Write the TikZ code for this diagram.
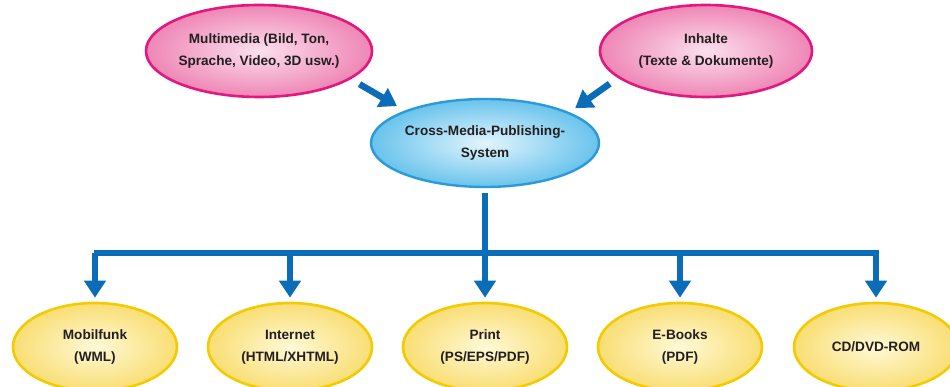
\documentclass[tikz,border=0pt]{standalone}
\usepackage{fontspec}
\setmainfont{Liberation Sans}
\usetikzlibrary{shapes.geometric,arrows.meta}

\definecolor{pinkline}{HTML}{E2187F}
\definecolor{pinkin}{HTML}{FBE0EC}
\definecolor{pinkout}{HTML}{EF86B6}
\definecolor{blueline}{HTML}{2A9AD8}
\definecolor{bluein}{HTML}{E2F5FD}
\definecolor{blueout}{HTML}{69C3EC}
\definecolor{yelline}{HTML}{F2CC00}
\definecolor{yelin}{HTML}{FFF9D6}
\definecolor{yelout}{HTML}{F9DE74}
\definecolor{flowblue}{HTML}{0B6DB7}
\definecolor{txt}{HTML}{231F20}

\tikzset{
  bubble/.style={ellipse, inner xsep=-14pt, inner ysep=-8pt, shading=radial,
    align=center, text=txt, font=\fontsize{13.6}{22.5}\selectfont\bfseries},
  source/.style={bubble, draw=pinkline, line width=2.6pt,
    inner color=pinkin, outer color=pinkout},
  hub/.style={bubble, draw=blueline, line width=2.4pt,
    inner color=bluein, outer color=blueout},
  target/.style={bubble, draw=yelline, line width=2.6pt,
    inner color=yelin, outer color=yelout,
    minimum width=164pt, minimum height=88pt},
  flow/.style={draw=flowblue, line width=6.5pt,
    -{Triangle[width=21pt,length=17pt]}},
  bar/.style={draw=flowblue, line width=6.5pt, line cap=rect}
}

\begin{document}
\begin{tikzpicture}[x=1pt,y=-1pt]
  \clip (0,0) rectangle (950,387);
  \fill[white] (0,0) rectangle (950,387);

  % sources and the central system
  \node[source, minimum width=226pt, minimum height=92pt] (mm) at (259,51)
    {Multimedia (Bild, Ton,\\Sprache, Video, 3D usw.)};
  \node[source, minimum width=212pt, minimum height=92pt] (inh) at (706,51)
    {Inhalte\\(Texte \& Dokumente)};
  \node[hub, minimum width=228pt, minimum height=88pt] (cmp) at (485,143)
    {Cross-Media-Publishing-\\System};

  % output channels
  \node[target] (mob) at (95,347) {Mobilfunk\\(WML)};
  \node[target] (web) at (290,347) {Internet\\(HTML/XHTML)};
  \node[target] (prt) at (485,347) {Print\\(PS/EPS/PDF)};
  \node[target] (ebk) at (680,347) {E-Books\\(PDF)};
  \node[target] (cd)  at (876,347) {CD/DVD-ROM};

  % inputs into the system
  \draw[flow, shorten <=10pt, shorten >=9pt] (mm.-17) -- (cmp.158);
  \draw[flow, shorten <=10pt, shorten >=7pt] (inh.197) -- (cmp.20);

  % distribution bar
  \coordinate (barL) at (97,253);
  \coordinate (barR) at (876,253);
  \draw[bar, shorten <=8pt] (cmp.south) -- (barL -| cmp.south);
  \draw[bar] (barL) -- (barR);
  \foreach \t in {mob,web,prt,ebk,cd}{
    \draw[flow, shorten >=4pt] (barL -| \t.north) -- (\t.north);
  }
\end{tikzpicture}
\end{document}
